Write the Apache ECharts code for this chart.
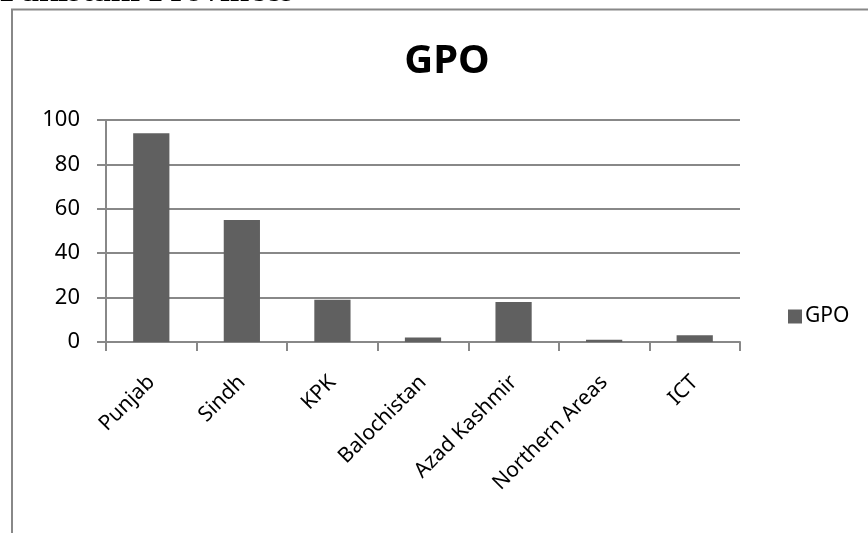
<!DOCTYPE html>
<html>
<head>
<meta charset="utf-8">
<script src="https://cdn.jsdelivr.net/npm/echarts@6/dist/echarts.min.js"></script>
<style>
html,body{margin:0;padding:0;background:#fff;}
#chart{width:868px;height:533px;}
</style>
</head>
<body>
<div id="chart"></div>
<script>
var categories = ['Punjab', 'Sindh', 'KPK', 'Balochistan', 'Azad Kashmir', 'Northern Areas', 'ICT'];
var gpoValues = [94, 55, 19, 2, 18, 1, 3];
var seriesName = 'GPO';
var titleText = 'GPO';
var pageHeading = 'Pakistani Provinces';

var chart = echarts.init(document.getElementById('chart'));
var font = '"Noto Sans", "Open Sans", sans-serif';
chart.setOption({
  animation: false,
  backgroundColor: '#fff',
  title: {
    text: titleText,
    left: 442,
    textAlign: 'center',
    top: 37,
    textStyle: {fontFamily: font, fontSize: 40, fontWeight: 'bold', color: '#000'}
  },
  legend: {
    data: [seriesName],
    left: 783,
    top: 301,
    itemWidth: 14,
    itemHeight: 14,
    itemGap: 6,
    icon: 'rect',
    textStyle: {fontFamily: font, fontSize: 21, color: '#000', padding: [0,0,0,-2]}
  },
  grid: {left: 106, right: 128, top: 120, bottom: 191, containLabel: false},
  xAxis: {
    type: 'category',
    data: categories,
    axisLine: {lineStyle: {color: '#888', width: 2}},
    axisTick: {show: true, length: 9, lineStyle: {color: '#888', width: 2}},
    axisLabel: {rotate: 45, fontFamily: font, fontSize: 21, color: '#000', margin: 37, interval: 0}
  },
  yAxis: {
    type: 'value',
    min: 0, max: 100, interval: 20,
    axisLine: {show: true, lineStyle: {color: '#888', width: 2}},
    axisTick: {show: true, length: 9, lineStyle: {color: '#888', width: 2}},
    splitLine: {lineStyle: {color: '#888', width: 2}},
    axisLabel: {fontFamily: font, fontSize: 22, color: '#000', margin: 26}
  },
  series: [{
    name: seriesName,
    type: 'bar',
    data: gpoValues,
    barCategoryGap: '60%',
    itemStyle: {color: '#606060'}
  }],
  graphic: [
    {
      type: 'rect',
      shape: {x: 12, y: 9.5, width: 1000, height: 1000},
      style: {fill: 'none', stroke: '#888', lineWidth: 2},
      silent: true
    },
    {
      type: 'text',
      x: 0,
      y: -8,
      z: 10,
      style: {text: pageHeading, font: 'bold 35px "Liberation Serif", "DejaVu Serif", serif', fill: '#000', verticalAlign: 'middle', align: 'left'},
      silent: true
    }
  ]
});
</script>
</body>
</html>
